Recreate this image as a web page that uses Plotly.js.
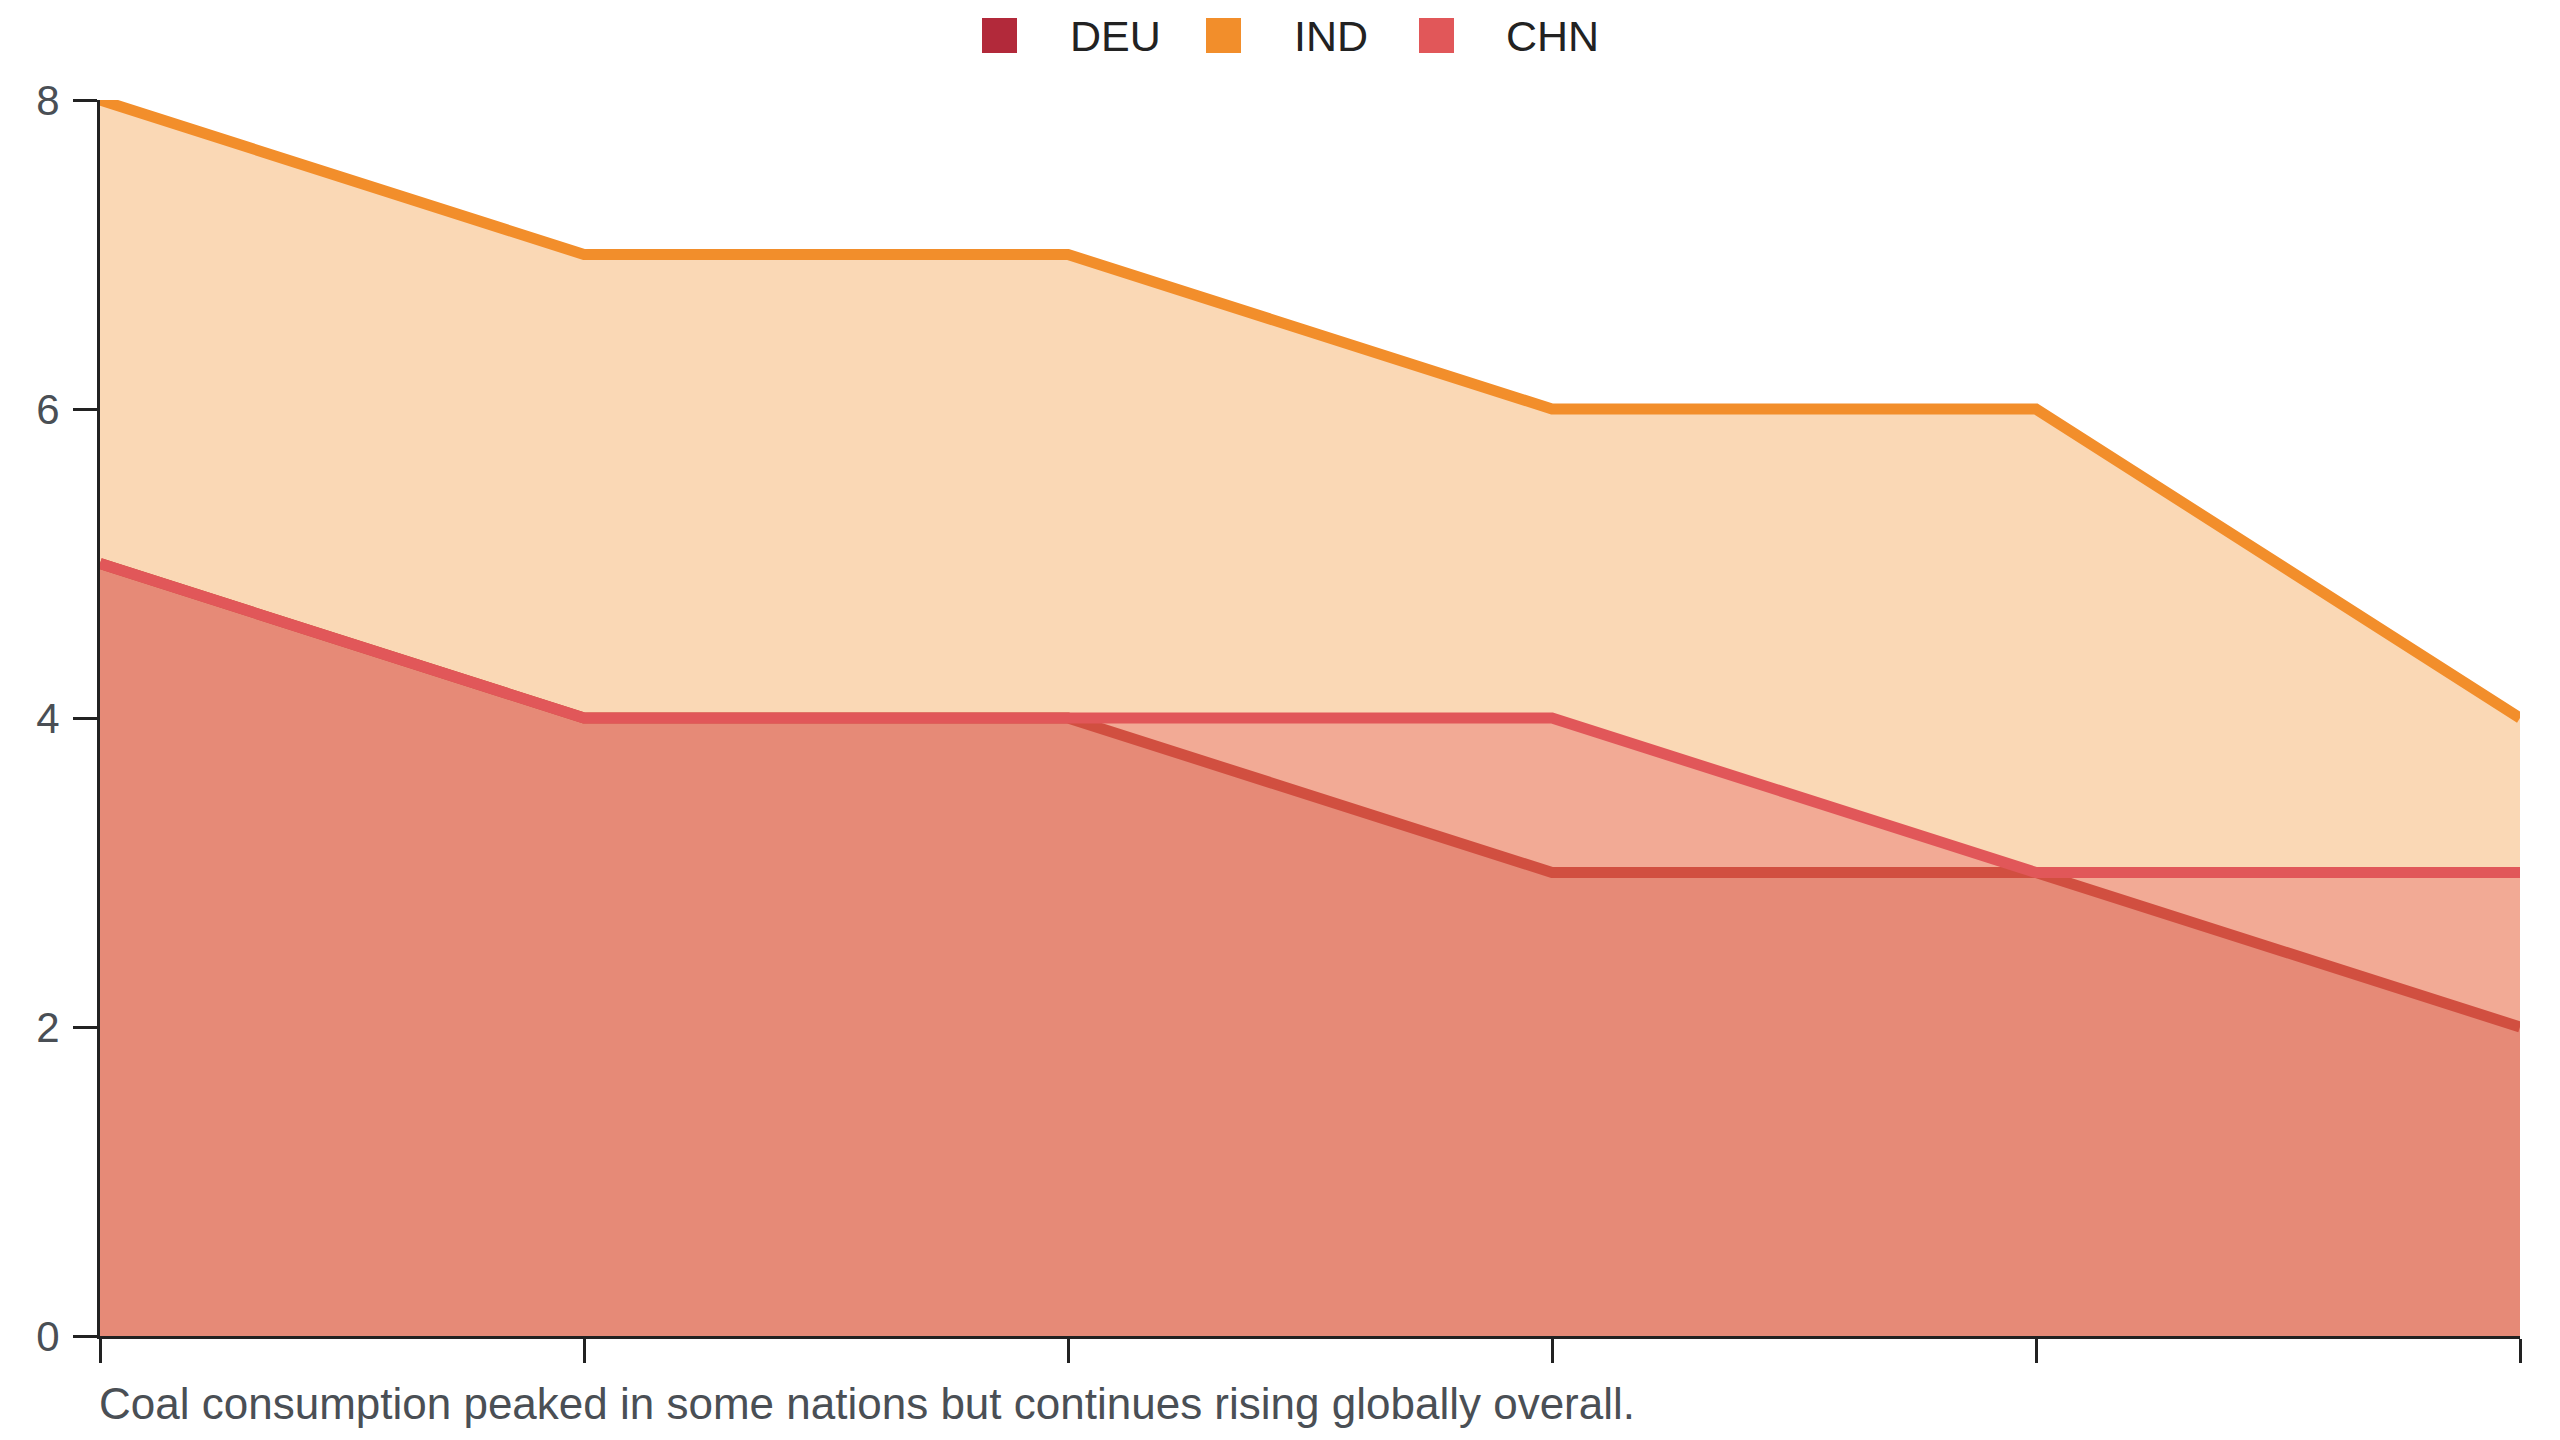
<!DOCTYPE html>
<html>
<head>
<meta charset="utf-8">
<script src="https://cdn.plot.ly/plotly-3.0.1.min.js"></script>
<style>
  html, body { margin: 0; padding: 0; background: #fff; }
  #chart { width: 2560px; height: 1440px; }
</style>
</head>
<body>
<div id="chart"></div>
<script>
// six periods along x, no tick labels in the original
const periods = [0, 1, 2, 3, 4, 5];

const deuValues = [5, 4, 4, 3, 3, 2];
const indValues = [8, 7, 7, 6, 6, 4];
const chnValues = [5, 4, 4, 4, 3, 3];

const countries = ['DEU', 'IND', 'CHN'];
const seriesValues = [deuValues, indValues, chnValues];
const colors = ['#b2293a', '#f28e2b', '#e15759'];
const fills = ['rgba(178,41,58,0.35)', 'rgba(242,142,43,0.35)', 'rgba(225,87,89,0.35)'];

const yTicks = [0, 2, 4, 6, 8];
const caption = 'Coal consumption peaked in some nations but continues rising globally overall.';

// area traces (drawn DEU, IND, CHN so later fills tint earlier ones)
const areas = countries.map((name, i) => ({
    x: periods,
    y: seriesValues[i],
    type: 'scatter',
    mode: 'lines',
    fill: 'tozeroy',
    fillcolor: fills[i],
    line: { color: colors[i], width: 11 },
    name: name,
    hoverinfo: 'none'
}));

// legend drawn by hand: plotly caps legend marker size, the original uses big squares
const plotLeft = 100, plotWidth = 2420;
const swatchLeft = [982, 1206, 1419];   // px in the page
const textLeft = [1068, 1292, 1504];
const legendMid = 36;                   // px from top
const toPaper = (px) => (px - plotLeft) / plotWidth;

const legendShapes = countries.map((name, i) => ({
    type: 'rect',
    xref: 'paper', yref: 'paper',
    xsizemode: 'pixel', ysizemode: 'pixel',
    xanchor: toPaper(swatchLeft[i]), yanchor: 1,
    x0: 0, x1: 35,
    y0: 100 - legendMid - 17, y1: 100 - legendMid + 18,
    fillcolor: colors[i],
    line: { width: 0 }
}));

const legendLabels = countries.map((name, i) => ({
    text: name,
    xref: 'paper', yref: 'paper',
    x: toPaper(textLeft[i]), xanchor: 'left',
    y: 1, yanchor: 'middle',
    yshift: 100 - legendMid,
    showarrow: false,
    font: { size: 43, color: '#222' }
}));

const layout = {
    width: 2560,
    height: 1440,
    margin: { l: plotLeft, r: 2560 - plotLeft - plotWidth, t: 100, b: 104 },
    paper_bgcolor: '#fff',
    plot_bgcolor: '#fff',
    font: { family: 'Liberation Sans, Arial, sans-serif', color: '#222' },
    showlegend: false,
    xaxis: {
        range: [0, 5],
        tickvals: periods,
        showticklabels: false,
        ticks: 'outside',
        ticklen: 24,
        tickwidth: 3,
        tickcolor: '#222',
        showline: true,
        linewidth: 3,
        linecolor: '#222',
        showgrid: false,
        zeroline: false
    },
    yaxis: {
        range: [0, 8],
        tickvals: yTicks,
        ticks: 'outside',
        ticklen: 24,
        tickwidth: 3,
        tickcolor: '#222',
        ticklabelstandoff: 5,
        showline: true,
        linewidth: 3,
        linecolor: '#222',
        showgrid: false,
        zeroline: false,
        tickfont: { size: 42, color: '#4a4f55' }
    },
    shapes: legendShapes,
    annotations: legendLabels.concat([{
        text: caption,
        xref: 'paper',
        yref: 'paper',
        x: 0,
        xanchor: 'left',
        xshift: -3,
        y: 0,
        yanchor: 'middle',
        yshift: -67,
        showarrow: false,
        font: { size: 44, color: '#4a4f55' }
    }])
};

Plotly.newPlot('chart', areas, layout, { displayModeBar: false, staticPlot: true });
</script>
</body>
</html>
